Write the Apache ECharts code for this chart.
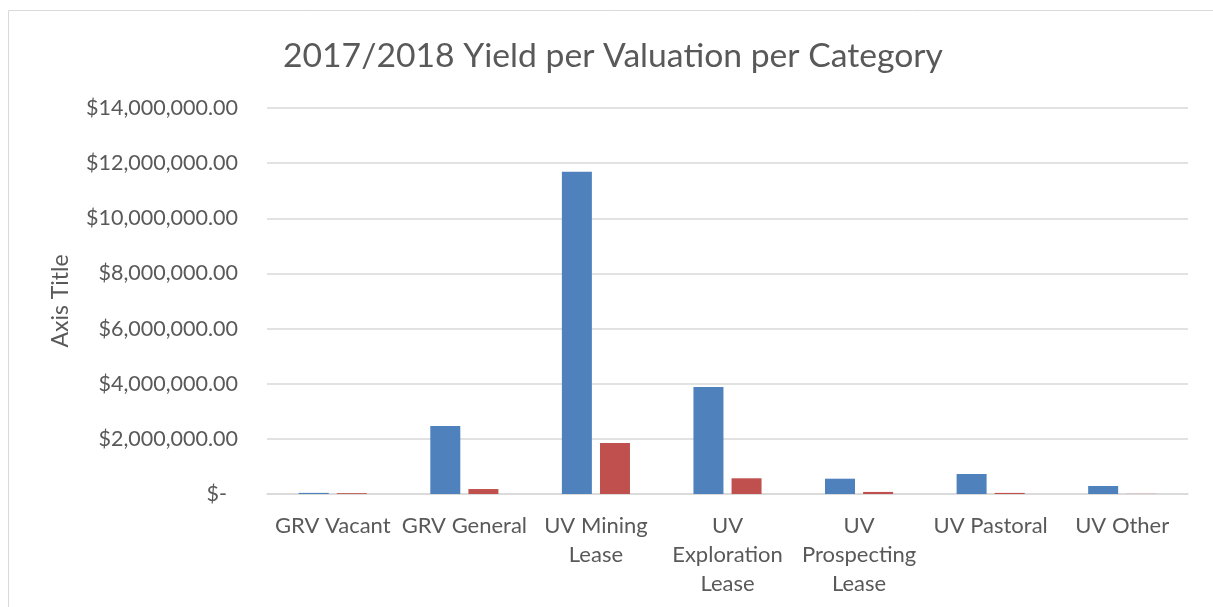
<!DOCTYPE html>
<html>
<head>
<meta charset="utf-8">
<script src="https://cdn.jsdelivr.net/npm/echarts@6/dist/echarts.min.js"></script>
<style>
  html, body { margin: 0; padding: 0; background: #fff; }
  #chart { width: 1213px; height: 607px; }
</style>
</head>
<body>
<div id="chart"></div>
<script>
const categories = ['GRV Vacant', 'GRV General', 'UV Mining\nLease', 'UV\nExploration\nLease', 'UV\nProspecting\nLease', 'UV Pastoral', 'UV Other'];
const seriesA = [40000, 2470000, 11690000, 3880000, 555000, 726000, 290000];
const seriesB = [30000, 180000, 1850000, 570000, 75000, 40000, 5000];
const yTicks = { min: 0, max: 14000000, interval: 2000000 };

const FONT = 'Lato';
const TXT = '#595959';

function money(v) {
  if (v === 0) return '{z|$-}';
  return '$' + v.toLocaleString('en-US') + '.00';
}

const chart = echarts.init(document.getElementById('chart'), null, { renderer: 'canvas' });
chart.setOption({
  animation: false,
  backgroundColor: '#fff',
  textStyle: { fontFamily: FONT, color: TXT },
  title: {
    text: '2017/2018 Yield per Valuation per Category',
    left: 278,
    top: 34,
    textStyle: { fontFamily: FONT, fontSize: 33.7, fontWeight: 'normal', color: TXT }
  },
  graphic: [{
    type: 'rect',
    shape: { x: 8.5, y: 10.5, width: 1300, height: 700 },
    style: { fill: 'none', stroke: '#d9d9d9', lineWidth: 1 },
    silent: true
  }],
  grid: { left: 267, right: 25, top: 108, bottom: 113 },
  xAxis: {
    type: 'category',
    data: categories,
    axisLine: { lineStyle: { color: '#d9d9d9', width: 1.5 } },
    axisTick: { show: false },
    axisLabel: { color: TXT, fontFamily: FONT, fontSize: 22, lineHeight: 29, margin: 17, interval: 0 }
  },
  yAxis: {
    type: 'value',
    min: yTicks.min,
    max: yTicks.max,
    interval: yTicks.interval,
    name: 'Axis Title',
    nameLocation: 'middle',
    nameGap: 195,
    nameRotate: 90,
    nameTextStyle: { color: TXT, fontFamily: FONT, fontSize: 23 },
    axisLine: { show: false },
    axisTick: { show: false },
    splitLine: { lineStyle: { color: '#d9d9d9', width: 1.5 } },
    axisLabel: {
      color: TXT, fontFamily: FONT, fontSize: 21.5, margin: 29,
      formatter: money,
      rich: { z: { color: TXT, fontFamily: FONT, fontSize: 21.5, padding: [0, 11, 0, 0] } }
    }
  },
  series: [
    { name: 'Yield', type: 'bar', data: seriesA, barWidth: 30, barGap: '27%', itemStyle: { color: '#4f81bd' } },
    { name: 'Valuation', type: 'bar', data: seriesB, barWidth: 30, itemStyle: { color: '#c0504d' } }
  ]
});
</script>
</body>
</html>
